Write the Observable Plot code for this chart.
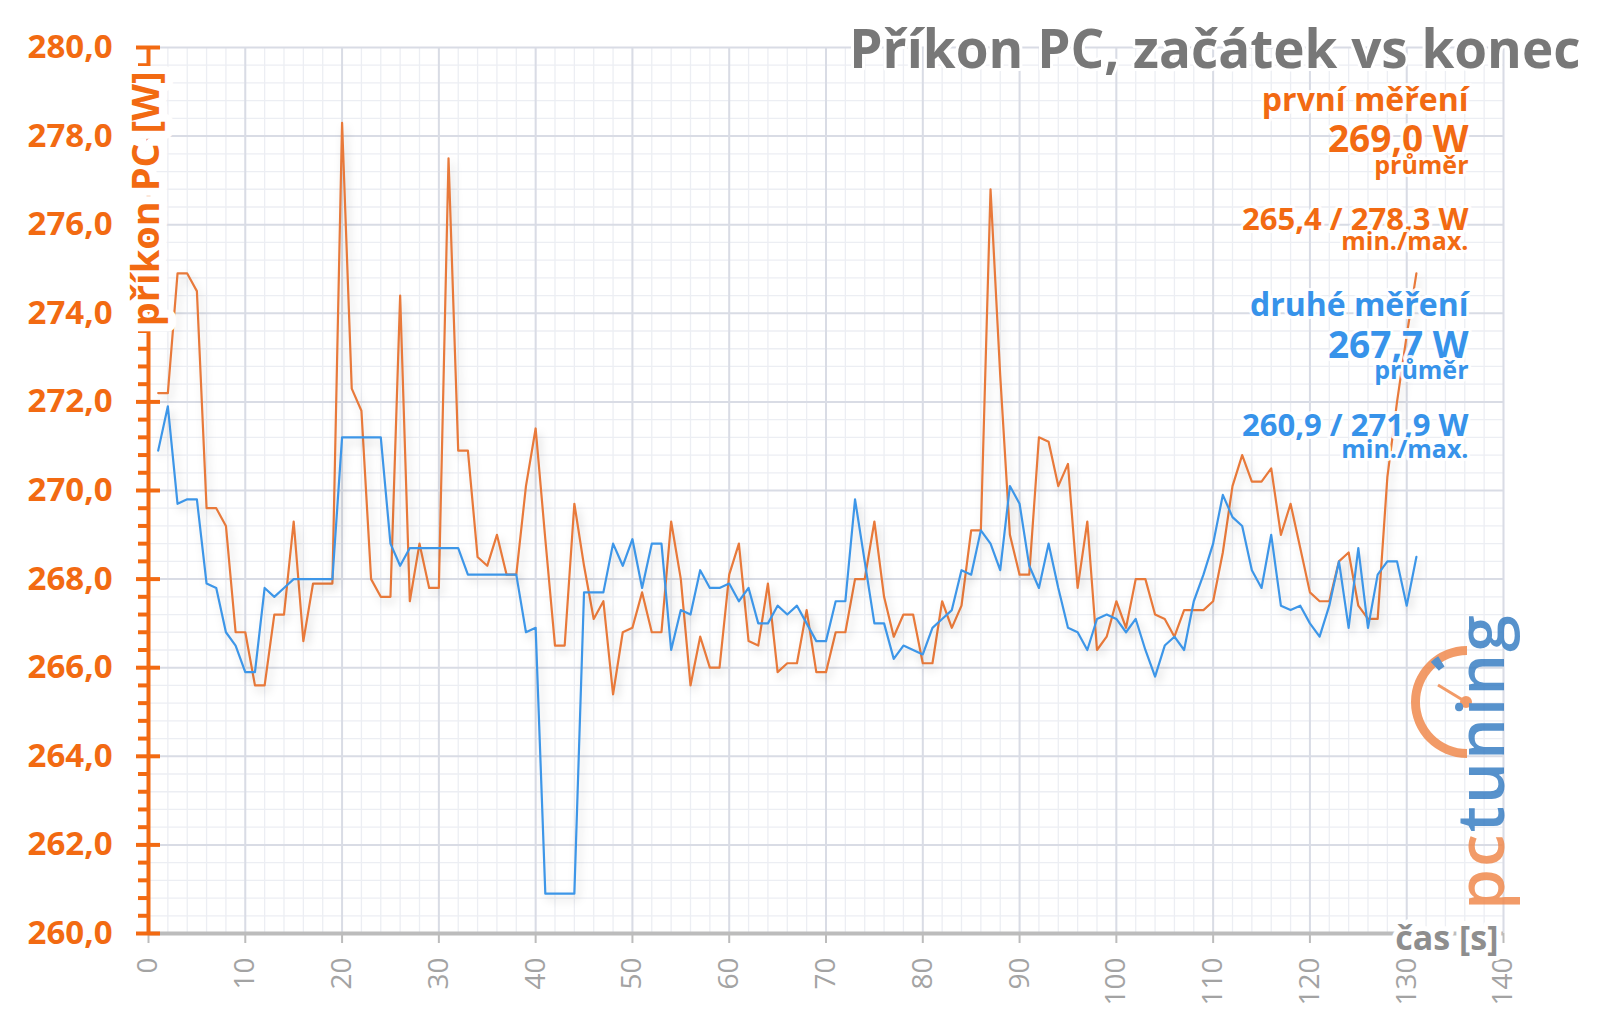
<!DOCTYPE html>
<html><head><meta charset="utf-8">
<script src="https://cdn.jsdelivr.net/npm/d3@7"></script>
<script src="https://cdn.jsdelivr.net/npm/@observablehq/plot@0.6"></script>
<style>
html,body{margin:0;padding:0;background:#fff;}
#chart svg{display:block;}
</style></head><body>
<div id="chart"></div>
<script>
// time in seconds
const cas = [1,2,3,4,5,6,7,8,9,10,11,12,13,14,15,16,17,18,19,20,21,22,23,24,25,26,27,28,29,30,
31,32,33,34,35,36,37,38,39,40,41,42,43,44,45,46,47,48,49,50,51,52,53,54,55,56,57,58,59,60,
61,62,63,64,65,66,67,68,69,70,71,72,73,74,75,76,77,78,79,80,81,82,83,84,85,86,87,88,89,90,
91,92,93,94,95,96,97,98,99,100,101,102,103,104,105,106,107,108,109,110,111,112,113,114,115,116,117,118,119,120,
121,122,123,124,125,126,127,128,129,130,131];

// první měření (W)
const prvni = [272.2,272.2,274.9,274.9,274.5,269.6,269.6,269.2,266.8,266.8,
265.6,265.6,267.2,267.2,269.3,266.6,267.9,267.9,267.9,278.3,
272.3,271.8,268.0,267.6,267.6,274.4,267.5,268.8,267.8,267.8,
277.5,270.9,270.9,268.5,268.3,269.0,268.1,268.1,270.1,271.4,
268.9,266.5,266.5,269.7,268.3,267.1,267.5,265.4,266.8,266.9,
267.7,266.8,266.8,269.3,268.0,265.6,266.7,266.0,266.0,268.1,
268.8,266.6,266.5,267.9,265.9,266.1,266.1,267.3,265.9,265.9,
266.8,266.8,268.0,268.0,269.3,267.6,266.7,267.2,267.2,266.1,
266.1,267.5,266.9,267.4,269.1,269.1,276.8,272.6,269.0,268.1,
268.1,271.2,271.1,270.1,270.6,267.8,269.3,266.4,266.7,267.5,
266.9,268.0,268.0,267.2,267.1,266.7,267.3,267.3,267.3,267.5,
268.6,270.1,270.8,270.2,270.2,270.5,269.0,269.7,268.7,267.7,
267.5,267.5,268.4,268.6,267.4,267.1,267.1,270.3,272.0,273.5,274.9];

// druhé měření (W)
const druhe = [270.9,271.9,269.7,269.8,269.8,267.9,267.8,266.8,266.5,265.9,
265.9,267.8,267.6,267.8,268.0,268.0,268.0,268.0,268.0,271.2,
271.2,271.2,271.2,271.2,268.8,268.3,268.7,268.7,268.7,268.7,
268.7,268.7,268.1,268.1,268.1,268.1,268.1,268.1,266.8,266.9,
260.9,260.9,260.9,260.9,267.7,267.7,267.7,268.8,268.3,268.9,
267.8,268.8,268.8,266.4,267.3,267.2,268.2,267.8,267.8,267.9,
267.5,267.8,267.0,267.0,267.4,267.2,267.4,267.0,266.6,266.6,
267.5,267.5,269.8,268.4,267.0,267.0,266.2,266.5,266.4,266.3,
266.9,267.1,267.3,268.2,268.1,269.1,268.8,268.2,270.1,269.7,
268.3,267.8,268.8,267.8,266.9,266.8,266.4,267.1,267.2,267.1,
266.8,267.1,266.4,265.8,266.5,266.7,266.4,267.5,268.1,268.8,
269.9,269.4,269.2,268.2,267.8,269.0,267.4,267.3,267.4,267.0,
266.7,267.4,268.4,266.9,268.7,266.9,268.1,268.4,268.4,267.4,268.5];

// summary values
const nazvy = ["první měření", "druhé měření"];
const prumery = [269.0, 267.7];
const minima = [265.4, 260.9];
const maxima = [278.3, 271.9];

// axis ticks
const yTicks = [260,262,264,266,268,270,272,274,276,278,280];
const xTicks = [0,10,20,30,40,50,60,70,80,90,100,110,120,130,140];

const titulek = "Příkon PC, začátek vs konec";
const yPopisek = "příkon PC [W]";
const xPopisek = "čas [s]";

const ORANGE_TXT = "#F26A12";
const ORANGE_LINE = "#E8793A";
const BLUE_TXT = "#3793EA";
const BLUE_LINE = "#3D96E8";
const FONT = "'Open Sans', sans-serif";

const f1 = v => v.toFixed(1).replace(".", ",");
const yMinor = d3.range(260, 280.001, 0.4).map(v => +v.toFixed(1)).filter(v => !yTicks.some(t => Math.abs(t - v) < 1e-6));
const xMinor = d3.range(0, 140.001, 2);

function label(text, {size, dy, fill, dx = -35, weight = "bold"}) {
  return Plot.text([text], {
    frameAnchor: "top-right", text: d => d, textAnchor: "end", lineAnchor: "bottom",
    dx, dy, fontSize: size, fontWeight: weight, fill,
    stroke: "white", strokeWidth: 6, strokeOpacity: 0.9, paintOrder: "stroke"
  });
}

const plot = Plot.plot({
  width: 1600, height: 1017,
  marginLeft: 148, marginRight: 97, marginTop: 47, marginBottom: 84,
  x: {domain: [0, 140]},
  y: {domain: [260, 280]},
  style: {fontFamily: FONT, background: "white", overflow: "visible"},
  marks: [
    Plot.gridY(yMinor, {stroke: "#eceef3", strokeOpacity: 1, strokeWidth: 1.3}),
    Plot.gridX(xMinor, {stroke: "#eceef3", strokeOpacity: 1, strokeWidth: 1.3}),
    Plot.gridY(yTicks, {stroke: "#d9dce5", strokeOpacity: 1, strokeWidth: 2}),
    Plot.gridX(xTicks, {stroke: "#d9dce5", strokeOpacity: 1, strokeWidth: 2}),
    // x axis
    Plot.ruleY([260], {stroke: "#bcbcbc", strokeWidth: 4}),
    Plot.axisX({ticks: xTicks, tickSize: 10, tickPadding: 14, tickRotate: -90, stroke: "#bcbcbc", strokeWidth: 2,
      fill: "#a3a3a3", fontSize: 28, label: null, tickFormat: d => String(d)}),
    // data
    Plot.lineY(prvni, {x: cas, stroke: ORANGE_LINE, strokeWidth: 2.2}),
    Plot.lineY(druhe, {x: cas, stroke: BLUE_LINE, strokeWidth: 2.2}),
    // y axis
    Plot.ruleX([0], {stroke: ORANGE_TXT, strokeWidth: 4}),
    Plot.axisY({ticks: yMinor, tickSize: 10, stroke: ORANGE_TXT, strokeWidth: 4, fill: "none", label: null}),
    Plot.axisY({ticks: yTicks, tickSize: 24, dx: 12, stroke: ORANGE_TXT, strokeWidth: 4, fill: "none", label: null}),
    Plot.axisY({ticks: yTicks, tickSize: 0, tickPadding: 36, tickFormat: f1, fontSize: 33, fontWeight: "bold",
      fill: ORANGE_TXT, label: null}),
    Plot.text([yPopisek], {frameAnchor: "top-left", text: d => d, rotate: -90, textAnchor: "end", lineAnchor: "middle",
      dx: -2, dy: 24, fontSize: 38, fontWeight: "bold", fill: ORANGE_TXT, stroke: "white", strokeWidth: 16,
      strokeLinejoin: "round", paintOrder: "stroke"}),
    Plot.text([xPopisek], {frameAnchor: "bottom-right", text: d => d, textAnchor: "end", lineAnchor: "bottom",
      dx: -5, dy: 16, fontSize: 34, fontWeight: "bold", fill: "#8e8e8e", stroke: "white", strokeWidth: 10, paintOrder: "stroke"}),
    // title
    Plot.text([titulek], {frameAnchor: "top-right", text: d => d, textAnchor: "end", lineAnchor: "bottom",
      dx: 77, dy: 20, fontSize: 53, fontWeight: "bold", fill: "#787878", stroke: "white", strokeWidth: 6, paintOrder: "stroke"}),
    // legend: první měření
    label(nazvy[0], {size: 32, dy: 63, fill: ORANGE_TXT}),
    label(f1(prumery[0]) + " W", {size: 37, dy: 104, fill: ORANGE_TXT}),
    label("průměr", {size: 25, dy: 126, fill: ORANGE_TXT}),
    label(f1(minima[0]) + " / " + f1(maxima[0]) + " W", {size: 31, dy: 182, fill: ORANGE_TXT}),
    label("min./max.", {size: 25, dy: 202, fill: ORANGE_TXT}),
    // legend: druhé měření
    label(nazvy[1], {size: 32, dy: 268, fill: BLUE_TXT}),
    label(f1(prumery[1]) + " W", {size: 37, dy: 310, fill: BLUE_TXT}),
    label("průměr", {size: 25, dy: 331, fill: BLUE_TXT}),
    label(f1(minima[1]) + " / " + f1(maxima[1]) + " W", {size: 31, dy: 388, fill: BLUE_TXT}),
    label("min./max.", {size: 25, dy: 410, fill: BLUE_TXT})
  ]
});

d3.select(plot).selectAll('g[aria-label="line"]').style("filter", "drop-shadow(3px 5px 4px rgba(0,0,0,0.16))");

// pctuning logo (decoration)
const logo = d3.select(plot).append("g").attr("opacity", 0.85);
logo.append("path")
  .attr("transform", "translate(1467,702)")
  .attr("d", d3.arc()({innerRadius: 47, outerRadius: 56, startAngle: Math.PI, endAngle: 2 * Math.PI}))
  .attr("fill", "#F08A4E");
logo.append("path")
  .attr("transform", "translate(1467,702)")
  .attr("d", d3.arc()({innerRadius: 42, outerRadius: 54, startAngle: 5.55, endAngle: 5.72}))
  .attr("fill", "#3A7FC4");
logo.append("line").attr("x1", 1438).attr("y1", 685).attr("x2", 1466).attr("y2", 702)
  .attr("stroke", "#F08A4E").attr("stroke-width", 3);
logo.append("circle").attr("cx", 1466).attr("cy", 702).attr("r", 6).attr("fill", "#F08A4E");
const lt = logo.append("text")
  .attr("transform", "translate(1504,910) rotate(-90)")
  .attr("text-anchor", "start")
  .attr("font-family", FONT).attr("font-size", 66).attr("font-weight", 600)
  .attr("letter-spacing", 2);
lt.append("tspan").attr("fill", "#F08A4E").text("pc");
lt.append("tspan").attr("fill", "#3A7FC4").text("tuning");

document.getElementById("chart").appendChild(plot);
</script>
</body></html>
